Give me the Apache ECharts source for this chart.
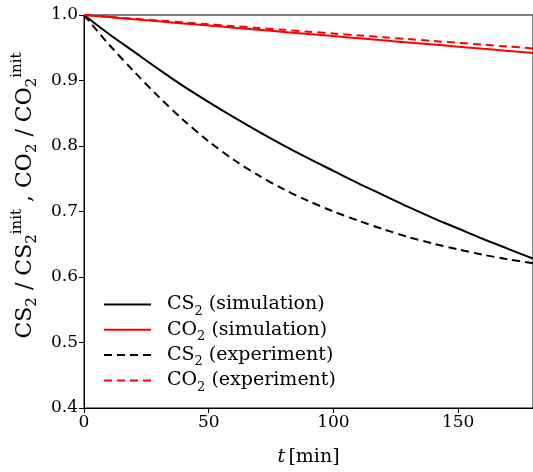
<!DOCTYPE html>
<html><head><meta charset="utf-8">
<script src="https://cdn.jsdelivr.net/npm/echarts@6/dist/echarts.min.js"></script>
<style>html,body{margin:0;padding:0;background:#fff}#c{width:533px;height:472px}</style>
</head><body><div id="c"></div>
<script>
const times = [0,10,20,30,40,50,60,70,80,90,100,110,120,130,140,150,160,170,180];
const cs2Sim = [1.000,0.971,0.944,0.917,0.891,0.867,0.844,0.822,0.801,0.781,0.762,0.743,0.725,0.707,0.690,0.674,0.658,0.643,0.628];
const co2Sim = [1.0000,0.9968,0.9936,0.9903,0.9871,0.9839,0.9807,0.9774,0.9742,0.9710,0.9678,0.9646,0.9613,0.9581,0.9549,0.9517,0.9484,0.9452,0.9420];
const cs2Exp = [1.000,0.955,0.914,0.875,0.839,0.807,0.779,0.755,0.734,0.716,0.700,0.686,0.673,0.661,0.651,0.642,0.634,0.627,0.621];
const co2Exp = [1.0000,0.9972,0.9943,0.9915,0.9887,0.9858,0.9830,0.9802,0.9773,0.9745,0.9717,0.9688,0.9660,0.9632,0.9603,0.9575,0.9547,0.9518,0.9490];
const xTicks = [0,50,100,150];
const seriesNames = ['CS2 (simulation)','CO2 (simulation)','CS2 (experiment)','CO2 (experiment)'];

const FONT = 'DejaVu Serif';
const FS = 17;
const pair = (arr) => times.map((t,i)=>[t,arr[i]]);
const chart = echarts.init(document.getElementById('c'));
function richSet(fs, sfs){
  return {
    n:{fontFamily:FONT,fontSize:fs,color:'#000',lineHeight:fs+8,verticalAlign:'middle'},
    s:{fontFamily:FONT,fontSize:sfs,color:'#000',lineHeight:fs+8,verticalAlign:'bottom'},
    p:{fontFamily:FONT,fontSize:sfs,color:'#000',lineHeight:fs+8,verticalAlign:'top'},
    i:{fontFamily:FONT,fontSize:fs,color:'#000',fontStyle:'italic',lineHeight:fs+8},
    g:{fontFamily:FONT,fontSize:fs,width:11,lineHeight:fs+8}
  };
}
function fmtLegend(name){
  const m = name.match(/^(C[SO])2 (.*)$/);
  return '{g| }{n|'+m[1]+'}{s|2}{n| '+m[2]+'}';
}
const mk = (name, data, color, type) => ({
  name, type:'line', data: pair(data), showSymbol:false, symbol:'none',
  smooth:0.3,
  lineStyle:{color, width:2, type: type==='dashed'?[8,5]:'solid'},
  itemStyle:{color}, animation:false
});
chart.setOption({
  animation:false,
  grid:{left:84, top:15, width:451, height:397, show:true, borderColor:'#000', borderWidth:1, backgroundColor:'transparent'},
  xAxis:{type:'value', min:0, max:180, interval:50,
    name:'{i|t} {n|[min]}', nameLocation:'middle', nameGap:36,
    nameTextStyle:{rich:richSet(19,13)},
    axisLine:{show:true, onZero:false, lineStyle:{color:'#000',width:1}},
    axisTick:{show:true, length:5, inside:false, customValues:xTicks, lineStyle:{color:'#000'}},
    axisLabel:{customValues:xTicks, fontFamily:FONT, fontSize:FS, color:'#000', margin:6},
    splitLine:{show:false}},
  yAxis:{type:'value', min:0.4, max:1.0, interval:0.1,
    name:'{n|CS}{s|2}{n| / CS}{s|2}{p|init}{n| , CO}{s|2}{n| / CO}{s|2}{p|init}',
    nameLocation:'middle', nameGap:38, nameRotate:90,
    nameTextStyle:{rich:richSet(22,15), padding:[0,0,0,32]},
    axisLine:{show:true, lineStyle:{color:'#000',width:1}},
    axisTick:{show:true, length:5, lineStyle:{color:'#000'}},
    axisLabel:{fontFamily:FONT, fontSize:FS, color:'#000', margin:6, formatter:(v)=>v.toFixed(1)},
    splitLine:{show:false}},
  legend:{orient:'vertical', left:98, top:290, itemWidth:47, itemHeight:20, itemGap:2.3,
    itemStyle:{opacity:0},
    data: seriesNames,
    formatter: fmtLegend,
    textStyle:{rich:richSet(19,13)}},
  series:[
    mk(seriesNames[0], cs2Sim, '#000', 'solid'),
    mk(seriesNames[1], co2Sim, '#ff0000', 'solid'),
    mk(seriesNames[2], cs2Exp, '#000', 'dashed'),
    mk(seriesNames[3], co2Exp, '#ff0000', 'dashed')
  ]
});
</script></body></html>
